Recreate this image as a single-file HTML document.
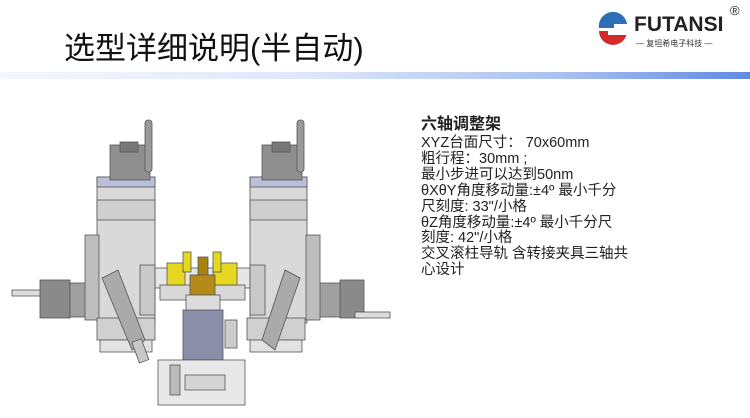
<!DOCTYPE html>
<html><head><meta charset="utf-8"><style>
html,body{margin:0;padding:0;background:#fff;}
body{width:750px;height:418px;position:relative;overflow:hidden;font-family:"Liberation Sans","Noto Sans CJK SC",sans-serif;}
.title{position:absolute;left:64px;top:23px;font-size:31px;color:#111;white-space:nowrap;}
.bar{position:absolute;left:0;top:72px;width:750px;height:7px;background:linear-gradient(90deg,#f4f7fd 0%,#dfe8fa 40%,#a9c0f0 75%,#5f8ae2 100%);}
.logo-t{position:absolute;left:634px;top:13px;font-size:21px;font-weight:bold;color:#222;letter-spacing:0px;}
.reg{position:absolute;left:730px;top:3px;font-size:13px;color:#222;}
.logo-s{position:absolute;left:636px;top:38px;font-size:8px;color:#333;white-space:nowrap;}
.txt{position:absolute;left:421px;top:113px;font-size:14.5px;line-height:15.9px;color:#222;white-space:nowrap;}
.txt b{font-size:16px;display:block;line-height:23px;}
</style></head><body>
<div class="title">选型详细说明(半自动)</div>
<div class="bar"></div>
<svg style="position:absolute;left:596px;top:12px" width="34" height="34" viewBox="0 0 34 34">
<path d="M3 16 A14 14 0 0 1 31 12 L18 12 L18 16 Z" fill="#2f6fb8"/>
<path d="M3 19 L31 19 A14 14 0 0 1 3 19 Z" fill="#d42a2a"/>
<rect x="12" y="19" width="20" height="4" fill="#fff"/>
</svg>
<div class="logo-t">FUTANSI</div>
<div class="reg">®</div>
<div class="logo-s">— 复坦希电子科技 —</div>
<div class="txt"><b>六轴调整架</b>XYZ台面尺寸： 70x60mm<br>粗行程：30mm ;<br>最小步进可以达到50nm<br>θXθY角度移动量:±4º 最小千分<br>尺刻度: 33"/小格<br>θZ角度移动量:±4º 最小千分尺<br>刻度: 42"/小格<br>交叉滚柱导轨 含转接夹具三轴共<br>心设计</div>
<svg style="position:absolute;left:0;top:0" width="420" height="418" viewBox="0 0 420 418">
<g stroke="#555" stroke-width="0.8">
<rect x="12" y="290" width="34" height="6" fill="#ddd"/>
<rect x="40" y="280" width="30" height="38" fill="#8a8a8a"/>
<rect x="70" y="283" width="28" height="34" fill="#a0a0a0"/>
<rect x="315" y="283" width="28" height="34" fill="#a0a0a0"/>
<rect x="340" y="280" width="24" height="38" fill="#8a8a8a"/>
<rect x="355" y="312" width="35" height="6" fill="#ddd"/>
<rect x="135" y="268" width="115" height="20" fill="#e6e6e6"/>
<rect x="160" y="285" width="85" height="15" fill="#d8d8d8"/>
<rect x="97" y="177" width="58" height="146" fill="#d9d9d9"/>
<rect x="97" y="177" width="58" height="10" fill="#b9bfd6"/>
<rect x="97" y="200" width="58" height="20" fill="#cfcfcf"/>
<rect x="85" y="235" width="14" height="85" fill="#bdbdbd"/>
<rect x="110" y="145" width="40" height="35" fill="#8f8f8f"/>
<rect x="120" y="142" width="18" height="10" fill="#777"/>
<rect x="145" y="120" width="7" height="52" fill="#9a9a9a" rx="3"/>
<rect x="97" y="318" width="58" height="22" fill="#d0d0d0"/>
<rect x="100" y="340" width="52" height="12" fill="#e2e2e2"/>
<path d="M102 278 L118 270 L145 340 L132 350 Z" fill="#aaa"/>
<rect x="135" y="340" width="10" height="22" fill="#c8c8c8" transform="rotate(-20 140 350)"/>
<rect x="140" y="265" width="15" height="50" fill="#c9c9c9"/>
<rect x="250" y="177" width="57" height="146" fill="#d9d9d9"/>
<rect x="250" y="177" width="57" height="10" fill="#b9bfd6"/>
<rect x="250" y="200" width="57" height="20" fill="#cfcfcf"/>
<rect x="306" y="235" width="14" height="85" fill="#bdbdbd"/>
<rect x="262" y="145" width="40" height="35" fill="#8f8f8f"/>
<rect x="272" y="142" width="18" height="10" fill="#777"/>
<rect x="297" y="120" width="7" height="52" fill="#9a9a9a" rx="3"/>
<rect x="247" y="318" width="58" height="22" fill="#d0d0d0"/>
<rect x="250" y="340" width="52" height="12" fill="#e2e2e2"/>
<path d="M300 278 L285 270 L262 340 L275 350 Z" fill="#aaa"/>
<rect x="250" y="265" width="15" height="50" fill="#c9c9c9"/>
<rect x="167" y="263" width="18" height="22" fill="#e6d820"/>
<rect x="183" y="252" width="8" height="20" fill="#e6d820"/>
<rect x="213" y="263" width="24" height="22" fill="#e6d820"/>
<rect x="213" y="252" width="8" height="20" fill="#e6d820"/>
<rect x="198" y="257" width="10" height="20" fill="#a88210"/>
<rect x="190" y="275" width="25" height="20" fill="#b58a18"/>
<rect x="186" y="295" width="34" height="16" fill="#dcdcdc"/>
<rect x="183" y="310" width="40" height="50" fill="#8a8ea8"/>
<rect x="225" y="320" width="12" height="28" fill="#ccc"/>
<rect x="158" y="360" width="87" height="45" fill="#e8e8e8"/>
<rect x="170" y="365" width="10" height="30" fill="#bbb"/>
<rect x="185" y="375" width="40" height="15" fill="#d4d4d4"/>
</g>
</svg>
</body></html>
